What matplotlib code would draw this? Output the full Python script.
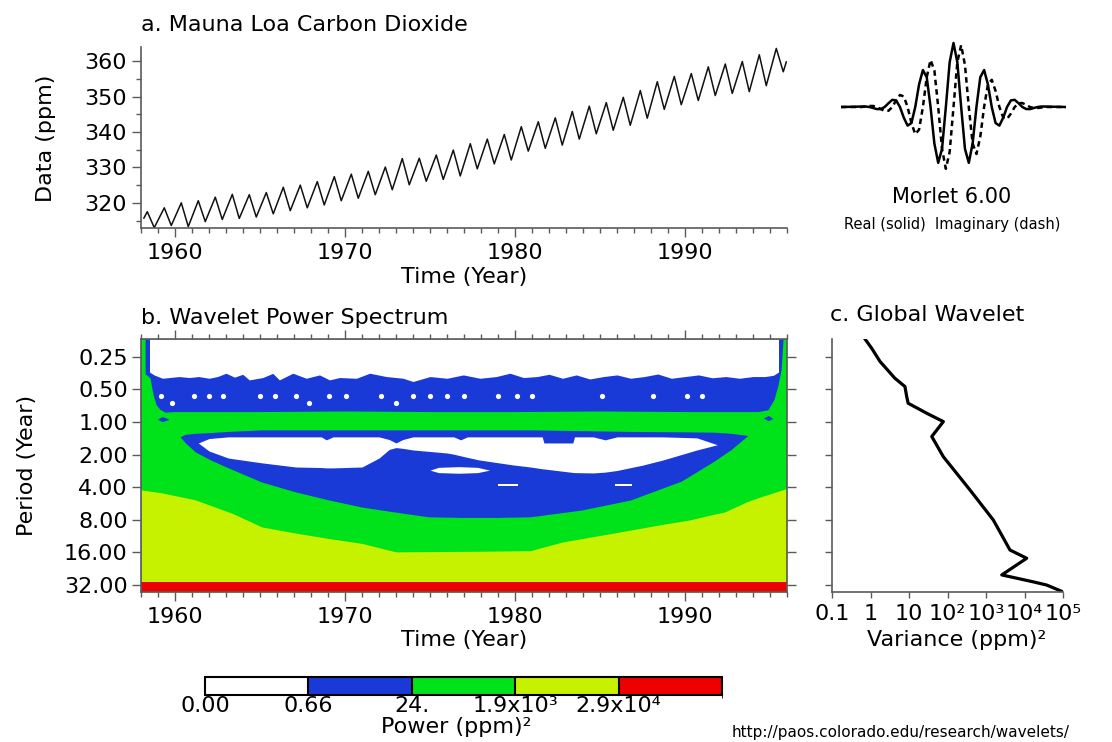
import numpy as np
import matplotlib
matplotlib.use("Agg")
import matplotlib.pyplot as plt
from matplotlib.colors import ListedColormap, BoundaryNorm
from matplotlib.cm import ScalarMappable
from matplotlib.ticker import FixedLocator, MultipleLocator, NullLocator, NullFormatter, LogLocator, FixedFormatter

plt.rcParams['font.family'] = ['DejaVu Sans']

# ---------------- data ----------------
# a. Mauna Loa CO2: yearly seasonal maxima (May) and minima (Oct), ppm
co2_years = list(range(1958, 1996))
co2_peak = [317.5, 318.6, 320.0, 320.6, 321.6, 322.4, 322.3, 322.9, 324.4, 325.0,
            326.0, 327.4, 328.1, 328.9, 330.1, 332.5, 332.6, 333.5, 334.9, 336.7,
            338.0, 339.3, 341.5, 342.9, 344.0, 345.8, 347.3, 348.3, 349.8, 351.7,
            354.2, 355.7, 356.5, 358.4, 359.2, 359.9, 361.8, 363.6]
co2_trough = [313.0, 313.6, 313.3, 314.7, 315.3, 315.6, 316.0, 316.9, 317.8, 318.6,
              319.4, 320.6, 321.3, 322.3, 323.7, 325.1, 326.1, 326.6, 327.6, 329.6,
              331.0, 332.1, 334.6, 335.4, 336.3, 338.0, 339.5, 340.5, 341.9, 343.9,
              346.4, 347.7, 348.9, 350.3, 350.9, 351.4, 353.1, 357.0]
co2_first = (1958.17, 315.7)
co2_last = (1995.96, 359.8)
peak_phase, trough_phase = 0.37, 0.78   # fraction of year (May, Oct)

# Morlet wavelet (omega0 = 6) read at 49 sample points
morlet_t = np.linspace(-3.1416, 3.1416, 49)
morlet_real = [0.007, 0.008, 0, -0.016, -0.033, -0.032, 0, 0.059, 0.112, 0.103, 0,
               -0.166, -0.291, -0.251, 0, 0.353, 0.578, 0.465, 0, -0.571, -0.872,
               -0.655, 0, 0.701, 1.000, 0.701, 0, -0.655, -0.872, -0.571, 0, 0.465,
               0.578, 0.353, 0, -0.251, -0.291, -0.166, 0, 0.103, 0.112, 0.059, 0,
               -0.032, -0.033, -0.016, 0, 0.008, 0.007]
morlet_imag = [0, 0.008, 0.016, 0.016, 0, -0.032, -0.062, -0.059, 0, 0.103, 0.187,
               0.166, 0, -0.251, -0.425, -0.353, 0, 0.465, 0.735, 0.571, 0, -0.655,
               -0.966, -0.701, 0, 0.701, 0.966, 0.655, 0, -0.571, -0.735, -0.465, 0,
               0.353, 0.425, 0.251, 0, -0.166, -0.187, -0.103, 0, 0.059, 0.062, 0.032,
               0, -0.016, -0.016, -0.008, 0]
morlet_tail = 3.85

# b. Wavelet power spectrum: period (yr) of the contour boundaries versus time
period_top, period_bottom = 0.171, 37.1
period_ticks = [0.25, 0.5, 1, 2, 4, 8, 16, 32]
period_labels = ['0.25', '0.50', '1.00', '2.00', '4.00', '8.00', '16.00', '32.00']

# 0.66 contour: top of the sub-annual blue band (white above)
white_top_t = [1958.50, 1958.77, 1959.26, 1960.24, 1960.83, 1961.40, 1962.00, 1962.50,
               1963.00, 1963.50, 1963.98, 1964.37, 1965.16, 1965.75, 1966.14, 1966.93,
               1967.72, 1968.50, 1969.09, 1969.68, 1970.67, 1971.45, 1972.44, 1973.42,
               1974.00, 1975.00, 1976.00, 1976.96, 1977.94, 1978.90, 1979.70, 1980.50,
               1981.30, 1982.00, 1982.80, 1983.60, 1984.40, 1985.20, 1986.00, 1986.80,
               1987.60, 1988.40, 1989.20, 1990.00, 1990.80, 1991.60, 1992.40, 1993.20,
               1994.00, 1994.70, 1995.20, 1995.50]
white_top_p = [0.345, 0.367, 0.394, 0.380, 0.388, 0.380, 0.394, 0.380,
               0.354, 0.385, 0.362, 0.408, 0.388, 0.355, 0.408, 0.354,
               0.394, 0.367, 0.408, 0.388, 0.394, 0.354, 0.380, 0.394,
               0.422, 0.380, 0.394, 0.367, 0.394, 0.380, 0.354, 0.388,
               0.380, 0.362, 0.394, 0.367, 0.400, 0.380, 0.367, 0.394,
               0.380, 0.360, 0.394, 0.380, 0.367, 0.390, 0.380, 0.394,
               0.380, 0.380, 0.370, 0.345]

# 24 contour: bottom of the sub-annual blue band (green below)
blue_band_t = [1958.24, 1958.35, 1958.53, 1958.71, 1958.89, 1959.10, 1959.42, 1960.0,
               1965.0, 1970.0, 1975.0, 1980.0, 1985.0, 1990.0, 1994.3, 1994.88,
               1995.23, 1995.45, 1995.65, 1995.77]
blue_band_p = [0.36, 0.37, 0.39, 0.56, 0.69, 0.76, 0.81, 0.80,
               0.80, 0.79, 0.80, 0.80, 0.79, 0.80, 0.80, 0.77,
               0.62, 0.47, 0.33, 0.171]

# 24 contour around the 1.5-8 yr region (blue ring)
ring_t = [1960.29, 1960.6, 1961.2, 1962.1, 1963.14, 1965.1, 1967.1, 1969.05, 1971.0, 1973.0,
          1974.9, 1976.9, 1978.9, 1980.9, 1983.9, 1986.8, 1989.8, 1991.7, 1992.7, 1993.7]
ring_top_p = [1.37, 1.30, 1.27, 1.25, 1.22, 1.18, 1.18, 1.18, 1.18, 1.18,
              1.18, 1.18, 1.18, 1.18, 1.20, 1.22, 1.23, 1.24, 1.27, 1.33]
ring_bottom_p = [1.37, 1.55, 1.89, 2.24, 2.65, 3.58, 4.42, 5.24, 6.10, 6.80,
                 7.50, 7.60, 7.60, 7.50, 6.50, 5.24, 3.50, 2.30, 1.80, 1.33]

# 0.66 contour: white lens inside the ring
lens_t = [1961.37, 1962.0, 1963.14, 1965.1, 1967.1, 1968.6, 1968.9, 1969.3, 1971.0, 1972.0,
          1972.6, 1973.0, 1973.4, 1974.0, 1976.0, 1976.4, 1976.8, 1977.2, 1977.9, 1979.9,
          1980.9, 1981.6, 1981.7, 1983.4, 1983.5, 1984.6, 1985.3, 1986.0, 1987.5, 1988.7,
          1990.7, 1991.9]
lens_top_p = [1.56, 1.42, 1.37, 1.37, 1.37, 1.37, 1.46, 1.37, 1.37, 1.37,
              1.45, 1.56, 1.45, 1.37, 1.37, 1.37, 1.46, 1.37, 1.37, 1.37,
              1.37, 1.37, 1.56, 1.56, 1.37, 1.37, 1.46, 1.37, 1.37, 1.37,
              1.40, 1.62]
lens_bottom_p = [1.56, 1.85, 2.15, 2.38, 2.60, 2.63, 2.65, 2.65, 2.60, 2.15,
                 1.79, 1.72, 1.75, 1.81, 1.93, 1.98, 2.05, 2.12, 2.24, 2.49,
                 2.60, 2.70, 2.71, 2.92, 2.93, 2.95, 2.90, 2.80, 2.50, 2.24,
                 1.81, 1.62]

# small white patches below the lens
lens2_t = [1975.0, 1975.5, 1976.7, 1977.8, 1978.5]
lens2_top_p = [2.78, 2.62, 2.58, 2.62, 2.78]
lens2_bottom_p = [2.78, 2.93, 2.97, 2.93, 2.78]
dash1_t = [1979.0, 1980.2]
dash2_t = [1985.9, 1986.9]
dash_top_p, dash_bottom_p = 3.72, 3.88

# small blue blobs near 1 yr at the edges
blob1_t = [1958.95, 1959.25, 1959.6]
blob1_top_p = [0.94, 0.89, 0.93]
blob1_bottom_p = [0.94, 0.99, 0.95]
blob2_t = [1994.6, 1994.9, 1995.15]
blob2_top_p = [0.92, 0.87, 0.92]
blob2_bottom_p = [0.92, 0.97, 0.93]

# white holes inside the sub-annual blue band
hole_t = [1959.2, 1959.8, 1961.1, 1962.0, 1962.8, 1965.0, 1965.9, 1967.1, 1967.9, 1969.05,
          1970.05, 1972.1, 1973.0, 1974.0, 1975.0, 1976.0, 1977.0, 1979.0, 1980.1, 1981.0,
          1985.1, 1988.1, 1990.1, 1991.0]
hole_p = [0.58, 0.665, 0.58, 0.58, 0.58, 0.58, 0.58, 0.58, 0.665, 0.58,
          0.58, 0.58, 0.665, 0.58, 0.58, 0.58, 0.58, 0.58, 0.58, 0.58,
          0.58, 0.58, 0.58, 0.58]

# 1900 contour: green / yellow-green boundary
yellow_t = [1958.0, 1959.2, 1961.2, 1963.4, 1965.1, 1967.1, 1969.05, 1971.0, 1972.4, 1973.0,
            1977.9, 1980.9, 1982.8, 1985.8, 1988.7, 1990.3, 1991.7, 1992.3, 1993.7, 1994.3, 1996.0]
yellow_p = [4.23, 4.5, 5.23, 7.0, 9.3, 10.6, 11.9, 13.2, 15.0, 15.8,
            15.6, 15.4, 12.8, 10.6, 8.8, 8.0, 7.1, 6.8, 5.4, 5.0, 4.1]
# 29000 contour: red below
red_p = 30.0

# colour bar
power_levels = ['0.00', '0.66', '24.', '1.9x10³', '2.9x10⁴']

# c. Global wavelet spectrum
gws_period = [0.171, 0.208, 0.276, 0.394, 0.47, 0.58, 0.67, 0.83, 0.99, 1.36,
              2.09, 4.24, 8.03, 15.2, 18.1, 25.8, 29.9, 32.0, 37.0]
gws_var = [0.72, 1.07, 1.77, 4.3, 7.85, 8.7, 9.5, 29, 78, 39,
           78, 384, 1550, 4200, 11400, 2570, 16900, 37700, 100000]
var_ticks = [0.1, 1, 10, 100, 1e3, 1e4, 1e5]
var_labels = ['0.1', '1', '10', '10²', '10³', '10⁴', '10⁵']

# ---------------- style ----------------
WHITE, BLUE, GREEN, YELLOW, RED = 'white', '#1a3ad8', '#00e31a', '#c6f200', '#ee0000'
AXC = '#5a5a5a'
FS = 16
W, H = 1112, 742


def rect(x0, y0, x1, y1):
    return [x0 / W, 1 - y1 / H, (x1 - x0) / W, (y1 - y0) / H]


def ftext(x, y, s, **kw):
    kw.setdefault('fontsize', FS)
    kw.setdefault('ha', 'left')
    kw.setdefault('va', 'center')
    fig.text(x / W, 1 - y / H, s, **kw)


def style_axis(ax):
    for sp in ax.spines.values():
        sp.set_color(AXC)
        sp.set_linewidth(1.2)
    ax.tick_params(which='both', direction='out', color=AXC, width=1.0, labelsize=FS)
    ax.tick_params(which='major', length=6.5)
    ax.tick_params(which='minor', length=3.5)


fig = plt.figure(figsize=(W / 100, H / 100), dpi=100)

# ---- panel a ----
axa = fig.add_axes(rect(141, 47, 787, 228))
t_co2 = [co2_first[0]]
v_co2 = [co2_first[1]]
for yr, pk, tr in zip(co2_years, co2_peak, co2_trough):
    t_co2 += [yr + peak_phase, yr + trough_phase]
    v_co2 += [pk, tr]
t_co2.append(co2_last[0])
v_co2.append(co2_last[1])
axa.plot(t_co2, v_co2, color='#111111', lw=1.1)
axa.set_xlim(1958, 1996)
axa.set_ylim(312.9, 364)
axa.spines['top'].set_visible(False)
axa.spines['right'].set_visible(False)
style_axis(axa)
axa.xaxis.set_major_locator(FixedLocator([1960, 1970, 1980, 1990]))
axa.xaxis.set_minor_locator(MultipleLocator(1))
axa.yaxis.set_major_locator(FixedLocator([320, 330, 340, 350, 360]))
axa.yaxis.set_minor_locator(MultipleLocator(5))
axa.tick_params(axis='x', pad=4)
axa.tick_params(axis='y', pad=4)
ftext(141, 25, 'a. Mauna Loa Carbon Dioxide')
ftext(46, 138, 'Data (ppm)', rotation=90, ha='center')
ftext(464, 277, 'Time (Year)', ha='center')

# ---- Morlet ----
axm = fig.add_axes(rect(841, 27, 1066, 187))
mt = [-morlet_tail] + list(morlet_t) + [morlet_tail]
axm.plot(mt, [0] + morlet_real + [0], color='black', lw=1.8)
axm.plot(mt, [0] + morlet_imag + [0], color='black', lw=1.8, ls=(0, (2.2, 1.6)))
axm.set_xlim(-morlet_tail, morlet_tail)
axm.set_ylim(-1.25, 1.25)
axm.axis('off')
ftext(952, 197, 'Morlet 6.00', ha='center', fontsize=15)
ftext(952, 224, 'Real (solid)  Imaginary (dash)', ha='center', fontsize=10.5)

# ---- panel b ----
axb = fig.add_axes(rect(141, 339, 787, 592))
axb.set_yscale('log', base=2)
axb.set_xlim(1958, 1996)
axb.set_ylim(period_bottom, period_top)
axb.set_facecolor(GREEN)
kw = dict(linewidth=0)
axb.fill_between(yellow_t, yellow_p, period_bottom, color=YELLOW, **kw)
axb.fill_between([1958, 1996], red_p, period_bottom, color=RED, **kw)
axb.fill_between(blue_band_t, period_top, blue_band_p, color=BLUE, **kw)
axb.fill_between(white_top_t, period_top, white_top_p, color=WHITE, **kw)
axb.scatter(hole_t, hole_p, s=14, color=WHITE, marker='o', linewidths=0, zorder=3)
axb.fill_between(blob1_t, blob1_top_p, blob1_bottom_p, color=BLUE, **kw)
axb.fill_between(blob2_t, blob2_top_p, blob2_bottom_p, color=BLUE, **kw)
axb.fill_between(ring_t, ring_top_p, ring_bottom_p, color=BLUE, **kw)
axb.fill_between(lens_t, lens_top_p, lens_bottom_p, color=WHITE, **kw)
axb.fill_between(lens2_t, lens2_top_p, lens2_bottom_p, color=WHITE, **kw)
axb.fill_between(dash1_t, dash_top_p, dash_bottom_p, color=WHITE, **kw)
axb.fill_between(dash2_t, dash_top_p, dash_bottom_p, color=WHITE, **kw)
style_axis(axb)
axb.tick_params(which='both', top=True, right=True, labeltop=False, labelright=False)
axb.xaxis.set_major_locator(FixedLocator([1960, 1970, 1980, 1990]))
axb.xaxis.set_minor_locator(MultipleLocator(1))
axb.yaxis.set_major_locator(FixedLocator(period_ticks))
axb.yaxis.set_major_formatter(FixedFormatter(period_labels))
axb.yaxis.set_minor_locator(NullLocator())
axb.tick_params(axis='x', pad=4)
axb.tick_params(axis='y', pad=3)
ftext(141, 318, 'b. Wavelet Power Spectrum')
ftext(27, 465, 'Period (Year)', rotation=90, ha='center')
ftext(464, 640, 'Time (Year)', ha='center')

# ---- panel c ----
axc = fig.add_axes(rect(832, 339, 1063, 592))
axc.set_xscale('log')
axc.set_yscale('log', base=2)
axc.plot(gws_var, gws_period, color='black', lw=2.3, solid_joinstyle='round')
axc.set_xlim(0.1, 1e5)
axc.set_ylim(period_bottom, period_top)
axc.spines['top'].set_visible(False)
axc.spines['right'].set_visible(False)
style_axis(axc)
axc.yaxis.set_major_locator(FixedLocator(period_ticks))
axc.yaxis.set_major_formatter(NullFormatter())
axc.yaxis.set_minor_locator(NullLocator())
axc.xaxis.set_major_locator(FixedLocator(var_ticks))
axc.xaxis.set_major_formatter(FixedFormatter(var_labels))
axc.xaxis.set_minor_locator(LogLocator(base=10, subs=np.arange(2, 10)))
axc.xaxis.set_minor_formatter(NullFormatter())
axc.tick_params(axis='x', which='major', length=4.5, pad=4)
axc.tick_params(axis='x', which='minor', length=2.5)
axc.tick_params(axis='y', length=5)
ftext(830, 315, 'c. Global Wavelet')
ftext(957, 640, 'Variance (ppm)²', ha='center')

# ---- colour bar ----
axcb = fig.add_axes(rect(205, 677, 722, 695))
cmap = ListedColormap([WHITE, BLUE, GREEN, YELLOW, RED])
norm = BoundaryNorm([0, 1, 2, 3, 4, 5], 5)
cb = fig.colorbar(ScalarMappable(norm=norm, cmap=cmap), cax=axcb, orientation='horizontal',
                  drawedges=True, ticks=[0, 1, 2, 3, 4])
cb.set_ticklabels(power_levels)
cb.outline.set_linewidth(1.5)
cb.outline.set_edgecolor('black')
cb.dividers.set_linewidth(1.5)
cb.dividers.set_color('black')
axcb.tick_params(length=0, labelsize=FS, pad=1)
ftext(456, 727, 'Power (ppm)²', ha='center')

ftext(732, 733, 'http://paos.colorado.edu/research/wavelets/', fontsize=11)

fig.savefig('out.png', dpi=100)
